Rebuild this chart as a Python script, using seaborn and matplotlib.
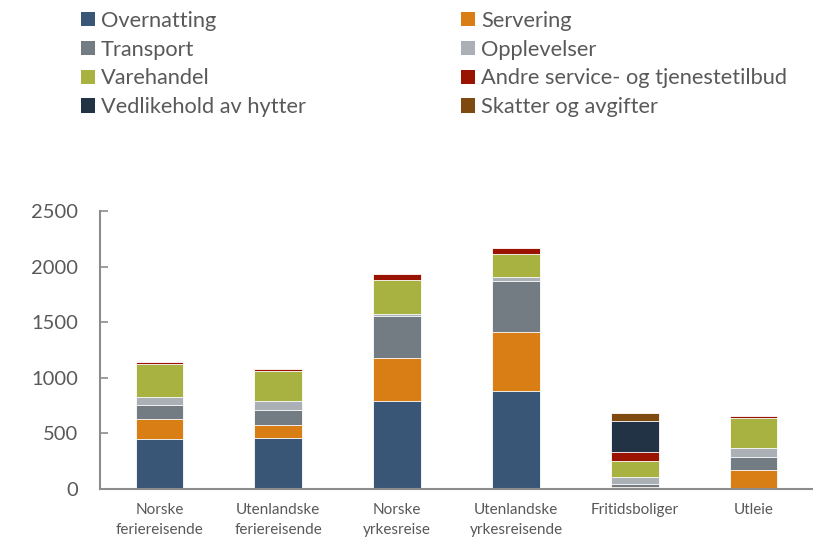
import matplotlib
matplotlib.use('Agg')

import pandas as pd
import matplotlib.pyplot as plt
import seaborn as sns
from matplotlib.patches import Patch

# ---------------- DATA ----------------
categories = ["Norske\nferiereisende", "Utenlandske\nferiereisende", "Norske\nyrkesreise",
              "Utenlandske\nyrkesreisende", "Fritidsboliger", "Utleie"]
overnatting = [447, 462, 792, 885, 3, 0]
servering = [180, 117, 387, 525, 15, 171]
transport = [131, 132, 381, 465, 30, 120]
opplevelser = [67, 84, 15, 33, 63, 81]
varehandel = [300, 270, 306, 210, 139, 270]
andre = [18, 15, 51, 51, 86, 12]
vedlikehold = [0, 0, 0, 0, 279, 0]
skatter = [0, 0, 0, 0, 72, 0]

series_names = ["Overnatting", "Servering", "Transport", "Opplevelser", "Varehandel",
                "Andre service- og tjenestetilbud", "Vedlikehold av hytter", "Skatter og avgifter"]
series_values = [overnatting, servering, transport, opplevelser, varehandel,
                 andre, vedlikehold, skatter]
colors = ["#3A5676", "#D97E15", "#737B83", "#ABB0B6", "#A7B241",
          "#9A1200", "#213345", "#7E4A10"]
# --------------------------------------

TEXT = "#595959"
SPINE = "#8C8C8C"

sns.set_theme(style="white")
plt.rcParams['font.family'] = ['Lato', 'DejaVu Sans']

fig = plt.figure(figsize=(8.13, 5.44), dpi=100)
ax = fig.add_axes([100 / 813, 1 - 489 / 544, 713 / 813, (489 - 211.3) / 544])

# cumulative totals, drawn from the top layer down so lower layers cover them
df = pd.DataFrame({name: vals for name, vals in zip(series_names, series_values)})
df.insert(0, "kategori", categories)
cum = df[series_names].cumsum(axis=1)

for name, color in reversed(list(zip(series_names, colors))):
    sns.barplot(x=df["kategori"], y=cum[name], color=color, width=0.4,
                edgecolor="white", linewidth=0.6, saturation=1, ax=ax)

ax.set_xlim(-0.5, 5.5)
ax.set_ylim(0, 2500)
ax.set_yticks([0, 500, 1000, 1500, 2000, 2500])
ax.set_xlabel("")
ax.set_ylabel("")

for side in ["top", "right"]:
    ax.spines[side].set_visible(False)
for side in ["left", "bottom"]:
    ax.spines[side].set_color(SPINE)
    ax.spines[side].set_linewidth(1.5)

ax.tick_params(axis="y", direction="in", length=6, width=1.2, color=SPINE,
               labelsize=14.5, labelcolor=TEXT, pad=16, left=True)
ax.tick_params(axis="x", length=0, labelsize=11, labelcolor=TEXT, pad=10)
for lab in ax.get_xticklabels():
    lab.set_linespacing(1.55)

# legend in two columns, built as two separate one-column legends
handles = [Patch(facecolor=c, edgecolor="none") for c in colors]
leg_kw = dict(frameon=False, fontsize=15.7, handlelength=0.62, handleheight=0.62,
              handletextpad=0.3, labelspacing=0.4, borderaxespad=0, borderpad=0,
              labelcolor=TEXT, loc="upper left")
leg1 = fig.legend(handles[0::2], series_names[0::2],
                  bbox_to_anchor=(81 / 813, 1 - 11 / 544), **leg_kw)
leg2 = fig.legend(handles[1::2], series_names[1::2],
                  bbox_to_anchor=(461 / 813, 1 - 11 / 544), **leg_kw)

fig.savefig("out.png", dpi=100)
